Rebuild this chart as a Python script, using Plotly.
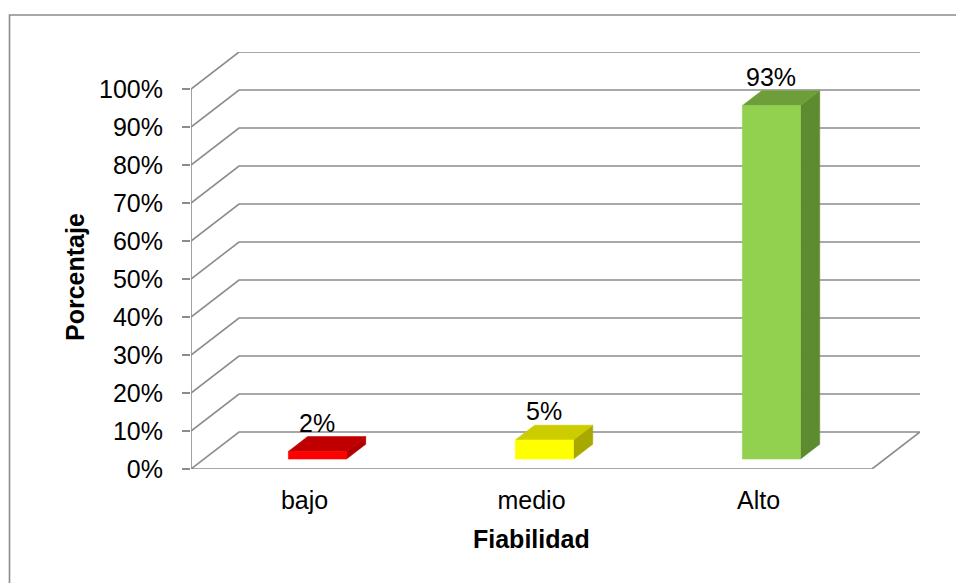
import plotly.graph_objects as go

# ---- data ----
categories = ["bajo", "medio", "Alto"]
values = [2, 5, 93]
tick_values = [0, 10, 20, 30, 40, 50, 60, 70, 80, 90, 100]
tick_labels = [f"{v}%" for v in tick_values]
x_title = "Fiabilidad"
y_title = "Porcentaje"

# ---- styling ----
front_colors = ["#FF0000", "#FFFF00", "#92D050"]
top_colors = ["#C00000", "#CCCC00", "#6E9E3A"]
side_colors = ["#B20000", "#A8A800", "#5E8A30"]
GRID = "#8C8C8C"
FONT = "Liberation Sans, Arial, sans-serif"

W, H = 956, 583
ML, MR, MT, MB = 191, 36, 52, 114
PLOT_W = W - ML - MR
PLOT_H = H - MT - MB

# pseudo-3D depth of the wall/floor, in data units
DEPTH_X = 48 / 227          # category-band units
DEPTH_Y = PLOT_H / 3.8 - 100  # percent units
F0, F1 = 0.27, 0.67          # bar front/back as a fraction of the depth
HALF_W = 0.128               # half bar width (category units)

fig = go.Figure()

def poly(xs, ys, color, width=0.6):
    fig.add_trace(go.Scatter(
        x=xs + [xs[0]], y=ys + [ys[0]], mode="lines", fill="toself",
        fillcolor=color, line=dict(color=color, width=width),
        hoverinfo="skip", showlegend=False))

def line(xs, ys):
    fig.add_trace(go.Scatter(
        x=xs, y=ys, mode="lines", line=dict(color=GRID, width=1.6),
        hoverinfo="skip", showlegend=False))

n = len(categories)

# gridlines: front edge -> back wall, plus the floor outline at 0%
for v in tick_values:
    if v == 0:
        line([0, DEPTH_X, n + DEPTH_X, n, 0],
             [0, DEPTH_Y, DEPTH_Y, 0, 0])
    else:
        line([0, DEPTH_X, n + DEPTH_X], [v, v + DEPTH_Y, v + DEPTH_Y])

# front vertical axis
line([0, 0], [0, 100])

# bars as front / top / side faces
for i, v in enumerate(values):
    c = i + 0.5
    xl0 = c - HALF_W + F0 * DEPTH_X
    xr0 = c + HALF_W + F0 * DEPTH_X
    xl1 = c - HALF_W + F1 * DEPTH_X
    xr1 = c + HALF_W + F1 * DEPTH_X
    y0 = F0 * DEPTH_Y
    y1 = F1 * DEPTH_Y
    # side
    poly([xr0, xr1, xr1, xr0], [y0, y1, v + y1, v + y0], side_colors[i])
    # top
    poly([xl0, xr0, xr1, xl1], [v + y0, v + y0, v + y1, v + y1], top_colors[i])
    # front
    poly([xl0, xr0, xr0, xl0], [y0, y0, v + y0, v + y0], front_colors[i])
    # value label
    fig.add_annotation(
        x=(xl0 + xr0) / 2, y=v + y1, text=f"{v}%", showarrow=False,
        xanchor="center", yanchor="bottom", yshift=-2,
        font=dict(family=FONT, size=25, color="#000000"))

# axis titles
fig.add_annotation(
    xref="paper", yref="paper",
    x=(531 - ML) / PLOT_W, y=(H - MB - 539) / PLOT_H,
    text=f"<b>{x_title}</b>", showarrow=False,
    xanchor="center", yanchor="middle",
    font=dict(family=FONT, size=25, color="#000000"))
fig.add_annotation(
    xref="paper", yref="paper",
    x=(75 - ML) / PLOT_W, y=(H - MB - 277) / PLOT_H,
    text=f"<b>{y_title}</b>", showarrow=False, textangle=-90,
    xanchor="center", yanchor="middle",
    font=dict(family=FONT, size=25, color="#000000"))

# chart-area border
fig.add_shape(
    type="rect", xref="paper", yref="paper",
    x0=(9.5 - ML) / PLOT_W, x1=(W + 20 - ML) / PLOT_W,
    y0=(H - MB - (H + 20)) / PLOT_H, y1=(H - MB - 15) / PLOT_H,
    line=dict(color="#8C8C8C", width=1.6), layer="below")

fig.update_layout(
    width=W, height=H,
    margin=dict(l=ML, r=MR, t=MT, b=MB, pad=0),
    paper_bgcolor="white", plot_bgcolor="white",
    font=dict(family=FONT, size=25, color="#000000"),
    xaxis=dict(
        range=[0, n + DEPTH_X], showgrid=False, zeroline=False,
        showline=False, tickmode="array",
        tickvals=[i + 0.5 for i in range(n)], ticktext=categories,
        ticks="", ticklabelstandoff=14, fixedrange=True,
        tickfont=dict(family=FONT, size=25, color="#000000")),
    yaxis=dict(
        range=[0, 100 + DEPTH_Y], showgrid=False, zeroline=False,
        showline=False, tickmode="array",
        tickvals=tick_values, ticktext=tick_labels,
        ticks="outside", ticklen=8, tickcolor=GRID, tickwidth=1.6,
        ticklabelstandoff=14, fixedrange=True,
        tickfont=dict(family=FONT, size=25, color="#000000")),
    showlegend=False,
)

fig.write_html("out.html", config={"displayModeBar": False})
